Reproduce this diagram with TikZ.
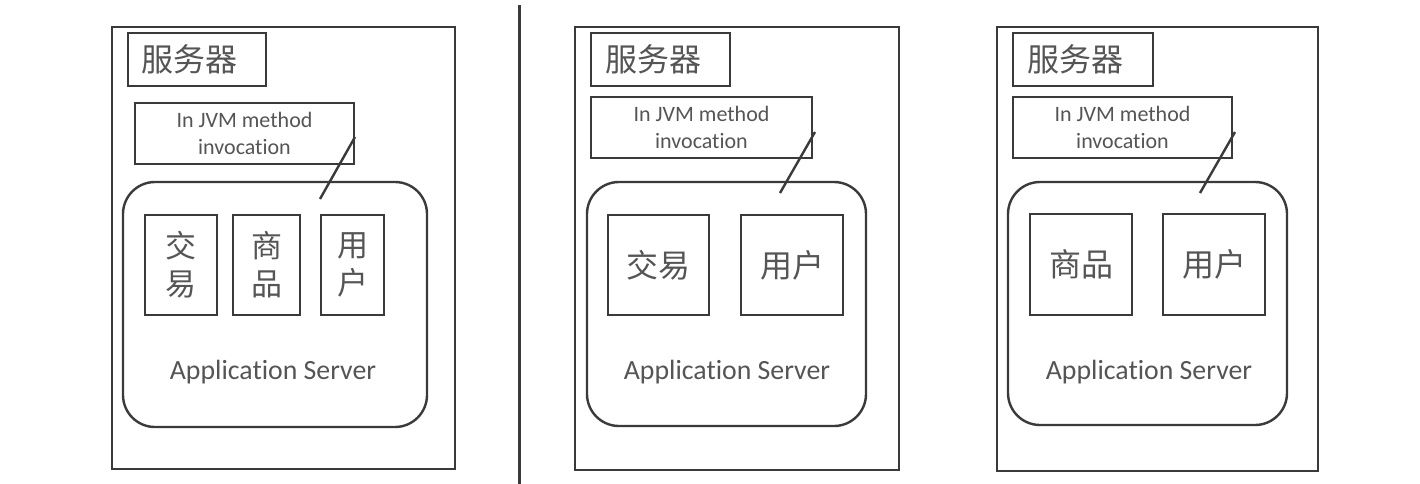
\documentclass[tikz,border=0pt]{standalone}
\usepackage{fontspec}
\setmainfont{Carlito}[Ligatures=NoCommon]
\newfontfamily\cjk{Noto Sans CJK SC}
\definecolor{ln}{HTML}{3A3A3A}
\definecolor{tx}{HTML}{555555}
\tikzset{
  box/.style={draw=ln, line width=2.4pt, inner sep=0pt, text=tx},
  outerbox/.style={box},
  jvmbox/.style={box, font=\fontsize{22}{27}\selectfont, align=center},
  appbox/.style={box, rounded corners=32pt},
  modbox/.style={box, align=center},
  srvtext/.style={text=tx, anchor=west, inner sep=0pt, font=\fontsize{32}{36}\selectfont\cjk},
  vtext/.style={font=\fontsize{31}{38}\selectfont\cjk},
  htext/.style={font=\fontsize{32}{38}\selectfont\cjk},
  aslabel/.style={text=tx, inner sep=0pt, font=\fontsize{27.8}{30}\selectfont},
  conn/.style={draw=ln, line width=2.4pt},
}
\begin{document}
\begin{tikzpicture}[x=1pt,y=-1pt]
\useasboundingbox (0,0) rectangle (1420,484);
\fill[white] (0,0) rectangle (1420,484);

% divider
\coordinate (dtop) at (519.5,5);
\coordinate (dbot) at (519.5,484);
\draw[conn] (dtop) -- (dbot);

% ---------- panel 1 ----------
\node[outerbox, minimum width=343pt, minimum height=442pt] (outer1) at (283.5,248) {};
\node[box, minimum width=138pt, minimum height=53pt] (srv1) at (197,59.5) {};
\node[srvtext] (srvt1) at (141,59) {服务器};
\node[jvmbox, minimum width=219pt, minimum height=61pt] (jvm1) at (244.5,133.5) {In JVM method\\invocation};
\node[appbox, minimum width=304pt, minimum height=245pt] (app1) at (275,304.5) {};
\node[modbox, vtext, minimum width=72pt, minimum height=100pt] (jy1) at (181,265) {交\\易};
\node[modbox, vtext, minimum width=67pt, minimum height=100pt] (sp1) at (266.5,265) {商\\品};
\node[modbox, vtext, minimum width=63pt, minimum height=100pt] (yh1) at (352.5,265) {用\\户};
\node[aslabel] (as1) at (273,372) {Application Server};
\coordinate (c1a) at (320,199);
\coordinate (c1b) at (355,137);
\draw[conn] (c1a) -- (c1b);

% ---------- panel 2 ----------
\node[outerbox, minimum width=324pt, minimum height=443pt] (outer2) at (737,248.5) {};
\node[box, minimum width=139pt, minimum height=53pt] (srv2) at (660.5,59.5) {};
\node[srvtext] (srvt2) at (605,59) {服务器};
\node[jvmbox, minimum width=221pt, minimum height=61pt] (jvm2) at (701.5,127.5) {In JVM method\\invocation};
\node[appbox, minimum width=279pt, minimum height=244pt] (app2) at (726.5,304) {};
\node[modbox, htext, minimum width=101pt, minimum height=100pt] (jy2) at (658.5,265) {交易};
\node[modbox, htext, minimum width=102pt, minimum height=100pt] (yh2) at (792,265) {用户};
\node[aslabel] (as2) at (727,372) {Application Server};
\coordinate (c2a) at (780,193);
\coordinate (c2b) at (815,132);
\draw[conn] (c2a) -- (c2b);

% ---------- panel 3 ----------
\node[outerbox, minimum width=321pt, minimum height=444pt] (outer3) at (1157.5,249) {};
\node[box, minimum width=140pt, minimum height=53pt] (srv3) at (1083,59.5) {};
\node[srvtext] (srvt3) at (1027,59) {服务器};
\node[jvmbox, minimum width=219pt, minimum height=61pt] (jvm3) at (1122.5,127.5) {In JVM method\\invocation};
\node[appbox, minimum width=279pt, minimum height=243pt] (app3) at (1147.5,303.5) {};
\node[modbox, htext, minimum width=102pt, minimum height=101pt] (sp3) at (1081,264.5) {商品};
\node[modbox, htext, minimum width=102pt, minimum height=101pt] (yh3) at (1214,264.5) {用户};
\node[aslabel] (as3) at (1149,372) {Application Server};
\coordinate (c3a) at (1200,193);
\coordinate (c3b) at (1235,132);
\draw[conn] (c3a) -- (c3b);
\end{tikzpicture}
\end{document}
